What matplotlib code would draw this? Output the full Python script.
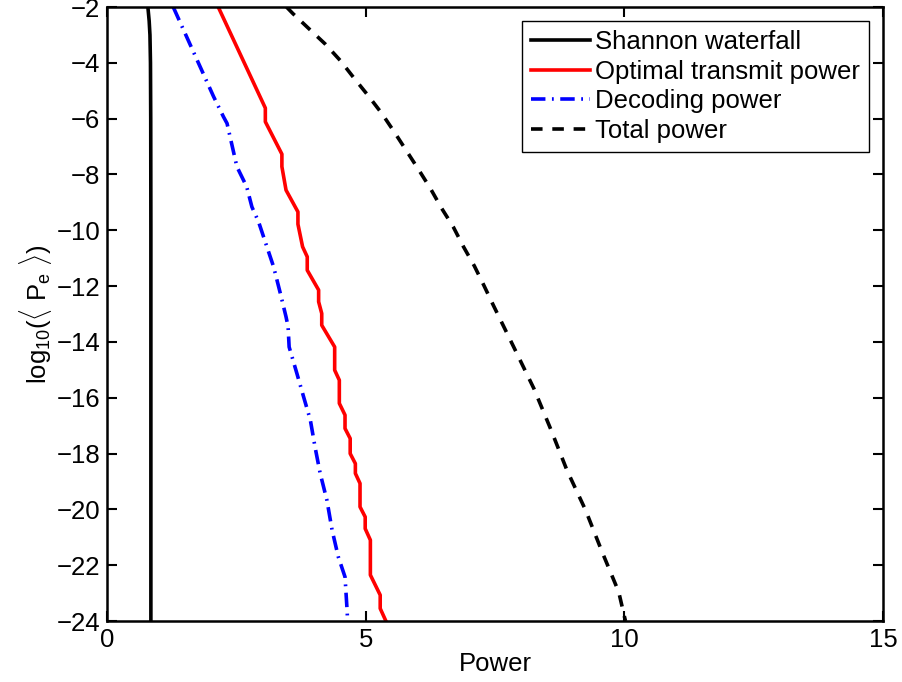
import numpy as np
import matplotlib
matplotlib.use("Agg")
import matplotlib.pyplot as plt

plt.rcParams['font.family'] = ['Liberation Sans', 'DejaVu Sans']
plt.rcParams['mathtext.fontset'] = 'custom'
plt.rcParams['mathtext.rm'] = 'Liberation Sans'
plt.rcParams['mathtext.it'] = 'Liberation Sans'

# Shannon waterfall
shannon_x = [0.79, 0.815, 0.83, 0.84, 0.845, 0.848, 0.848]
shannon_y = [-2, -2.5, -3.0, -4.0, -6.0, -10.0, -24]

# Optimal transmit power
opt_x = [2.15, 3.06, 3.06, 3.38, 3.38, 3.46, 3.69, 3.69, 3.78, 3.87, 3.87, 4.09, 4.09,
         4.15, 4.15, 4.40, 4.40, 4.49, 4.49, 4.60, 4.60, 4.70, 4.70, 4.80, 4.80,
         4.89, 4.89, 4.99, 4.99, 5.09, 5.09, 5.28, 5.28, 5.39]
opt_y = [-2, -5.62, -6.11, -7.27, -7.72, -8.56, -9.34, -9.78, -10.59, -10.95, -11.43,
         -12.14, -12.56, -12.98, -13.40, -14.18, -15.01, -15.37, -16.20, -16.62, -17.10,
         -17.46, -18.00, -18.36, -18.71, -19.07, -19.91, -20.27, -20.69, -21.10, -22.35,
         -23.07, -23.55, -24]

# Decoding power
dec_x = [1.28, 2.06, 2.25, 2.32, 2.51, 2.70, 2.80, 2.93, 3.09, 3.22, 3.35, 3.46, 3.50,
         3.52, 3.67, 3.80, 3.93, 4.02, 4.12, 4.25, 4.35, 4.47, 4.60, 4.64, 4.65]
dec_y = [-2, -5.21, -5.93, -6.17, -7.72, -8.44, -9.16, -9.70, -10.59, -11.31, -12.26,
         -13.1, -13.46, -14.18, -15.13, -15.97, -16.80, -17.76, -18.71, -19.67, -20.74,
         -21.70, -22.42, -23.61, -24]

# Total power
tot_x = [3.47, 3.59, 3.91, 4.22, 4.51, 4.78, 5.05, 5.31, 5.55, 5.78, 6.02, 6.25, 6.47,
         6.69, 6.89, 7.10, 7.28, 7.47, 7.86, 8.25, 8.57, 8.89, 9.25, 9.57, 9.89, 10.02]
tot_y = [-2, -2.23, -2.79, -3.33, -3.92, -4.56, -5.18, -5.81, -6.47, -7.13, -7.82, -8.50,
         -9.22, -9.87, -10.59, -11.28, -11.96, -12.70, -14.18, -15.67, -17.10, -18.60,
         -20.03, -21.53, -22.96, -24]

fig = plt.figure(figsize=(9.03, 6.82), dpi=100)
ax = fig.add_axes([0.1185, 0.0894, 0.8595, 0.9003])

ax.plot(shannon_x, shannon_y, color='black', lw=2.6, label='Shannon waterfall')
ax.plot(opt_x, opt_y, color='red', lw=2.6, label='Optimal transmit power')
ax.plot(dec_x, dec_y, color='blue', lw=2.6, linestyle=(0, (4, 1.8, 0.5, 1.8)),
        label='Decoding power')
ax.plot(tot_x, tot_y, color='black', lw=2.6, linestyle=(0, (3.2, 2.7)), label='Total power')

ax.set_xlim(0, 15)
ax.set_ylim(-24, -2)
ax.set_xticks([0, 5, 10, 15])
ax.set_yticks(np.arange(-24, -1, 2))
ax.tick_params(direction='in', length=7, width=1.5, top=True, right=True,
               labelsize=18.5, pad=5)
for s in ax.spines.values():
    s.set_linewidth(1.8)

ax.set_xlabel('Power', fontsize=18.5, labelpad=0)
ax.set_ylabel(r'log$_{10}$($\langle$ P$_e$ $\rangle$)', fontsize=18.5, labelpad=2)

leg = ax.legend(loc='upper right', fontsize=18.5, handlelength=2.3, handletextpad=0.2,
                borderpad=0.35, labelspacing=0.22, fancybox=False, framealpha=1,
                borderaxespad=0.55)
leg.get_frame().set_edgecolor('black')
leg.get_frame().set_linewidth(1.0)

fig.savefig('out.png', dpi=100)
